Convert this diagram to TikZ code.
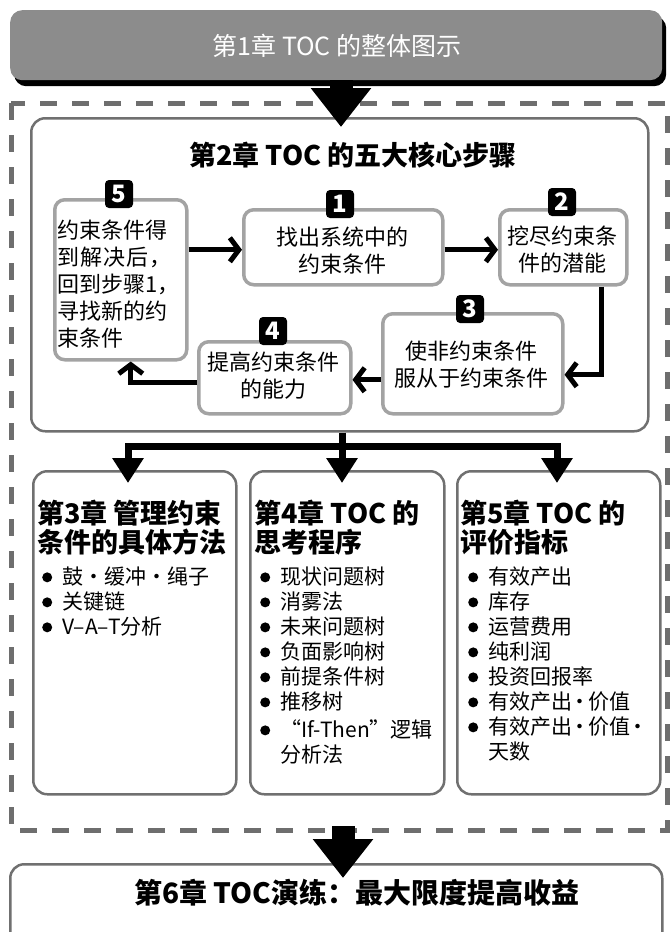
\documentclass[tikz,border=0pt]{standalone}
\usepackage{fontspec}
\setmainfont{Noto Sans CJK SC}
\usetikzlibrary{arrows.meta,calc,shadows}
\definecolor{topgray}{HTML}{8C8C8C}
\definecolor{framegray}{HTML}{6E6E6E}
\definecolor{chgray}{HTML}{707070}
\definecolor{stepgray}{HTML}{A3A3A3}
\newcommand{\bul}{\makebox[20pt][l]{\tikz[baseline=0pt]\fill (5pt,7.5pt) circle (5pt);}}
\newcommand{\ndot}{\kern-2.5pt・\kern-2.5pt}
\begin{document}
\begin{tikzpicture}[x=1pt,y=-1pt,
  topbox/.style={fill=topgray, rounded corners=12pt, minimum width=652pt, minimum height=70pt, anchor=north west, inner sep=0pt,
    drop shadow={shadow xshift=4pt,shadow yshift=-6pt,fill=black,opacity=1}},
  toptext/.style={text=white, font=\fontsize{25pt}{30pt}\selectfont},
  chbox/.style={draw=chgray, line width=2.5pt, rounded corners=14pt, anchor=north west, inner sep=0pt, fill=white},
  stepbox/.style={draw=stepgray, line width=3.5pt, rounded corners=10pt, anchor=north west, inner sep=0pt, fill=white},
  badge/.style={fill=black, rounded corners=4pt, minimum width=28pt, minimum height=28pt, inner sep=0pt, text=white, font=\bfseries\fontsize{24pt}{24pt}\selectfont},
  steptext/.style={inner sep=0pt, font=\fontsize{22pt}{27pt}\selectfont},
  chtitle/.style={inner sep=0pt, anchor=north west, align=left, font=\bfseries\fontsize{27pt}{29pt}\selectfont},
  listtext/.style={inner sep=0pt, anchor=north west, align=left, font=\fontsize{21pt}{25pt}\selectfont},
  flow/.style={line width=5pt, -{Straight Barb[length=9pt,width=24pt]}},
  branch/.style={line width=7pt, line cap=rect},
  brarrow/.style={line width=7pt, -{Triangle[length=25pt,width=30pt]}},
  bigarrow/.style={line width=23pt, -{Triangle[length=39pt,width=58pt]}},
  dashframe/.style={draw=framegray, line width=5pt, dash pattern=on 17pt off 15pt}
]
\useasboundingbox (0,0) rectangle (671,932);

% dashed frame
\draw[dashframe] (11,103) rectangle (667,830);

% top box
\node[topbox] (t1) at (10,10) {};
\node[toptext] (t1t) at (337,46) {第1章\ TOC 的整体图示};
\coordinate (tt) at (341,127);

% chapter 2 box
\node[chbox, minimum width=617pt, minimum height=313pt] (c2) at (30,117) {};
\draw[bigarrow] (tt |- t1.south) -- (tt);
\node[inner sep=0pt, font=\bfseries\fontsize{27pt}{30pt}\selectfont] (c2t) at (353,155) {第2章\ TOC 的五大核心步骤};

% steps
\node[stepbox, minimum width=132pt, minimum height=160pt] (s5) at (53,198) {};
\node[stepbox, minimum width=199pt, minimum height=75pt] (s1) at (242,208) {};
\node[stepbox, minimum width=127pt, minimum height=75pt] (s2) at (498,208) {};
\node[stepbox, minimum width=180pt, minimum height=100pt] (s3) at (381,312) {};
\node[stepbox, minimum width=152pt, minimum height=72pt] (s4) at (197,340) {};

\node[badge] (b5) at (119,194) {5};
\node[badge] (b1) at (340,204) {1};
\node[badge] (b2) at (562,202) {2};
\node[badge] (b3) at (470,309) {3};
\node[badge] (b4) at (273,331) {4};

\node[steptext, anchor=west, align=left] (s5t) at (57,284) {约束条件得\\\makebox[114pt][s]{到\hfill 解\hfill 决\hfill 后\hfill ，}\\回到步骤1，\\寻找新的约\\束条件};
\node[steptext, align=center] (s1t) at (342,251) {找出系统中的\\约束条件};
\node[steptext, align=center] (s2t) at (562,250) {挖尽约束条\\件的潜能};
\node[steptext, align=center] (s3t) at (471,365) {使非约束条件\\服从于约束条件};
\node[steptext, align=center] (s4t) at (273,376) {提高约束条件\\的能力};

\draw[flow] ([yshift=-2.5pt]s5.east |- s1.west) -- ([yshift=-2.5pt]s1.west);
\draw[flow] ([yshift=-2.5pt]s1.east) -- ([yshift=-2.5pt]s2.west);
\draw[flow] ([xshift=38pt]s2.south) |- ([yshift=-11pt]s3.east);
\draw[flow] ([yshift=-16pt]s3.west) -- ([yshift=-2pt]s4.east);
\draw[flow] ([yshift=-5pt]s4.west) -| ([xshift=10pt]s5.south);

% chapter boxes 3-5
\node[chbox, minimum width=203pt, minimum height=323pt] (c3) at (32,470) {};
\node[chbox, minimum width=194pt, minimum height=323pt] (c4) at (249,470) {};
\node[chbox, minimum width=203pt, minimum height=323pt] (c5) at (456,470) {};

% branch connector
\coordinate (j) at (342,446);
\coordinate (jl) at (128,446);
\coordinate (jr) at (557,446);
\coordinate (a3) at (128,483);
\coordinate (a4) at (342,483);
\coordinate (a5) at (557,483);
\draw[branch] (jl) -- (jr);
\draw[brarrow] (j |- c2.south) -- (a4);
\draw[brarrow] (jl) -- (a3);
\draw[brarrow] (jr) -- (a5);

\node[chtitle] (c3t) at (37,500) {第3章\ 管理约束\\条件的具体方法};
\node[chtitle] (c4t) at (254,500) {第4章\ TOC 的\\思考程序};
\node[chtitle] (c5t) at (460,500) {第5章\ TOC 的\\评价指标};

\node[listtext] (c3l) at (42,567) {\bul 鼓・缓冲・绳子\\\bul 关键链\\\bul V–A–T分析};
\node[listtext] (c4l) at (260,567) {\bul 现状问题树\\\bul 消雾法\\\bul 未来问题树\\\bul 负面影响树\\\bul 前提条件树\\\bul 推移树\\[3pt]\bul “If-Then”逻辑\\\hspace*{20pt}分析法};
\node[listtext] (c5l) at (468,567) {\bul 有效产出\\\bul 库存\\\bul 运营费用\\\bul 纯利润\\\bul 投资回报率\\\bul 有效产出\ndot 价值\\\bul 有效产出\ndot 价值\ndot\\\hspace*{20pt}天数};

% chapter 6
\node[chbox, minimum width=652pt, minimum height=110pt] (c6) at (9,863) {};
\node[inner sep=0pt, font=\bfseries\fontsize{28pt}{30pt}\selectfont] (c6t) at (357,893) {第6章\ TOC演练：最大限度提高收益};
\coordinate (bs) at (343,826);
\coordinate (bt) at (343,878);
\draw[bigarrow] (bs) -- (bt);
\end{tikzpicture}
\end{document}
